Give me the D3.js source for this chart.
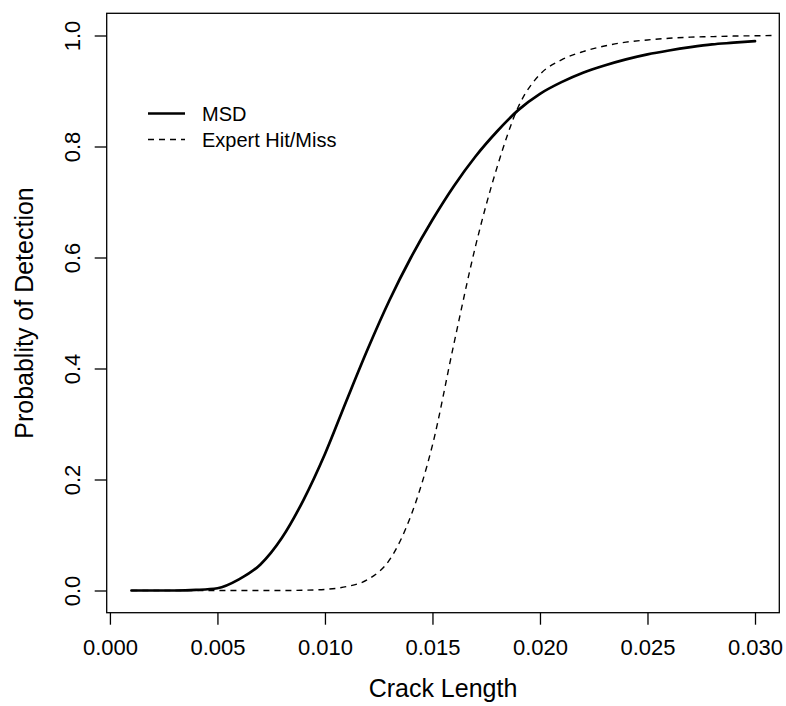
<!DOCTYPE html>
<html>
<head>
<meta charset="utf-8">
<script src="https://cdn.jsdelivr.net/npm/d3@7"></script>
<style>
  body { margin: 0; background: #fff; }
  svg { display: block; font-family: "Liberation Sans", Arial, sans-serif; }
</style>
</head>
<body>
<svg width="786" height="706"></svg>
<script>
// crack lengths, one per 0.001
const crackLength = [0.001, 0.002, 0.003, 0.004, 0.005, 0.006, 0.007, 0.008, 0.009, 0.010,
    0.011, 0.012, 0.013, 0.014, 0.015, 0.016, 0.017, 0.018, 0.019, 0.020,
    0.021, 0.022, 0.023, 0.024, 0.025, 0.026, 0.027, 0.028, 0.029, 0.030, 0.031];

// MSD probability of detection (0.001 .. 0.030)
const msdPod = [0, 0, 0, 0.001, 0.004, 0.020, 0.047, 0.095, 0.163, 0.246,
    0.342, 0.436, 0.523, 0.600, 0.668, 0.729, 0.782, 0.827, 0.866, 0.895,
    0.916, 0.933, 0.946, 0.957, 0.966, 0.973, 0.979, 0.984, 0.987, 0.990];

// expert hit/miss probability of detection (0.001 .. 0.031)
const expertPod = [0, 0, 0, 0, 0, 0, 0, 0, 0.0005, 0.002,
    0.007, 0.020, 0.055, 0.135, 0.262, 0.445, 0.620, 0.762, 0.872, 0.930,
    0.956, 0.971, 0.981, 0.988, 0.992, 0.995, 0.997, 0.998, 0.999, 0.9995, 1.0];

const xTicks = [0.000, 0.005, 0.010, 0.015, 0.020, 0.025, 0.030];
const yTicks = [0.0, 0.2, 0.4, 0.6, 0.8, 1.0];

const seriesNames = ["MSD", "Expert Hit/Miss"];

// plot box
const box = {left: 106.7, top: 13.3, right: 779.3, bottom: 612.7};

const svg = d3.select("svg");

const x = d3.scaleLinear()
    .domain([-0.00015, 0.03113])
    .range([box.left, box.right]);

const y = d3.scaleLinear()
    .domain([-0.04, 1.04])
    .range([box.bottom, box.top]);

svg.append("clipPath")
    .attr("id", "plotclip")
  .append("rect")
    .attr("x", box.left)
    .attr("y", box.top)
    .attr("width", box.right - box.left)
    .attr("height", box.bottom - box.top);

const line = d3.line()
    .x(d => x(d[0]))
    .y(d => y(d[1]))
    .curve(d3.curveMonotoneX);

const msdData = msdPod.map((p, i) => [crackLength[i], p]);
const expertData = expertPod.map((p, i) => [crackLength[i], p]);

const curves = svg.append("g").attr("clip-path", "url(#plotclip)");

curves.append("path")
    .datum(expertData)
    .attr("d", line)
    .attr("fill", "none")
    .attr("stroke", "#000")
    .attr("stroke-width", 1.4)
    .attr("stroke-dasharray", "6,5");

curves.append("path")
    .datum(msdData)
    .attr("d", line)
    .attr("fill", "none")
    .attr("stroke", "#000")
    .attr("stroke-width", 2.7)
    .attr("stroke-linecap", "round")
    .attr("stroke-linejoin", "round");

// frame
svg.append("rect")
    .attr("x", box.left)
    .attr("y", box.top)
    .attr("width", box.right - box.left)
    .attr("height", box.bottom - box.top)
    .attr("fill", "none")
    .attr("stroke", "#000")
    .attr("stroke-width", 1.3);

// x axis
const xAxis = svg.append("g")
    .attr("transform", `translate(0,${box.bottom})`)
    .call(d3.axisBottom(x).tickValues(xTicks).tickSize(12).tickFormat(d3.format(".3f")));
xAxis.select(".domain").remove();
xAxis.selectAll("line").attr("stroke-width", 1.3);
xAxis.selectAll("text")
    .attr("y", 42)
    .attr("dy", null)
    .style("font-size", "22px")
    .style("font-family", "'Liberation Sans', Arial, sans-serif")
    .attr("fill", "#000");

// y axis, labels rotated like base R
const yAxis = svg.append("g")
    .attr("transform", `translate(${box.left},0)`)
    .call(d3.axisLeft(y).tickValues(yTicks).tickSize(12).tickFormat(d3.format(".1f")));
yAxis.select(".domain").remove();
yAxis.selectAll("line").attr("stroke-width", 1.3);
yAxis.selectAll("text")
    .attr("x", 0)
    .attr("y", -27)
    .attr("dy", null)
    .attr("transform", "rotate(-90)")
    .attr("text-anchor", "middle")
    .style("font-size", "22px")
    .style("font-family", "'Liberation Sans', Arial, sans-serif")
    .attr("fill", "#000");

// axis titles
svg.append("text")
    .attr("x", (box.left + box.right) / 2)
    .attr("y", 697)
    .attr("text-anchor", "middle")
    .style("font-size", "25px")
    .text("Crack Length");

svg.append("text")
    .attr("transform", `translate(33,${(box.top + box.bottom) / 2}) rotate(-90)`)
    .attr("text-anchor", "middle")
    .style("font-size", "25px")
    .text("Probablity of Detection");

// legend
const legend = svg.append("g")
    .selectAll("g")
    .data(seriesNames)
    .enter().append("g")
      .attr("transform", (d, i) => `translate(0,${113.5 + i * 26})`);

legend.append("line")
    .attr("x1", 148)
    .attr("x2", 185)
    .attr("stroke", "#000")
    .attr("stroke-width", (d, i) => i ? 1.4 : 2.7)
    .attr("stroke-dasharray", (d, i) => i ? "6,5" : null);

legend.append("text")
    .attr("x", 202)
    .attr("y", 7.5)
    .style("font-size", "20px")
    .text(d => d);
</script>
</body>
</html>
